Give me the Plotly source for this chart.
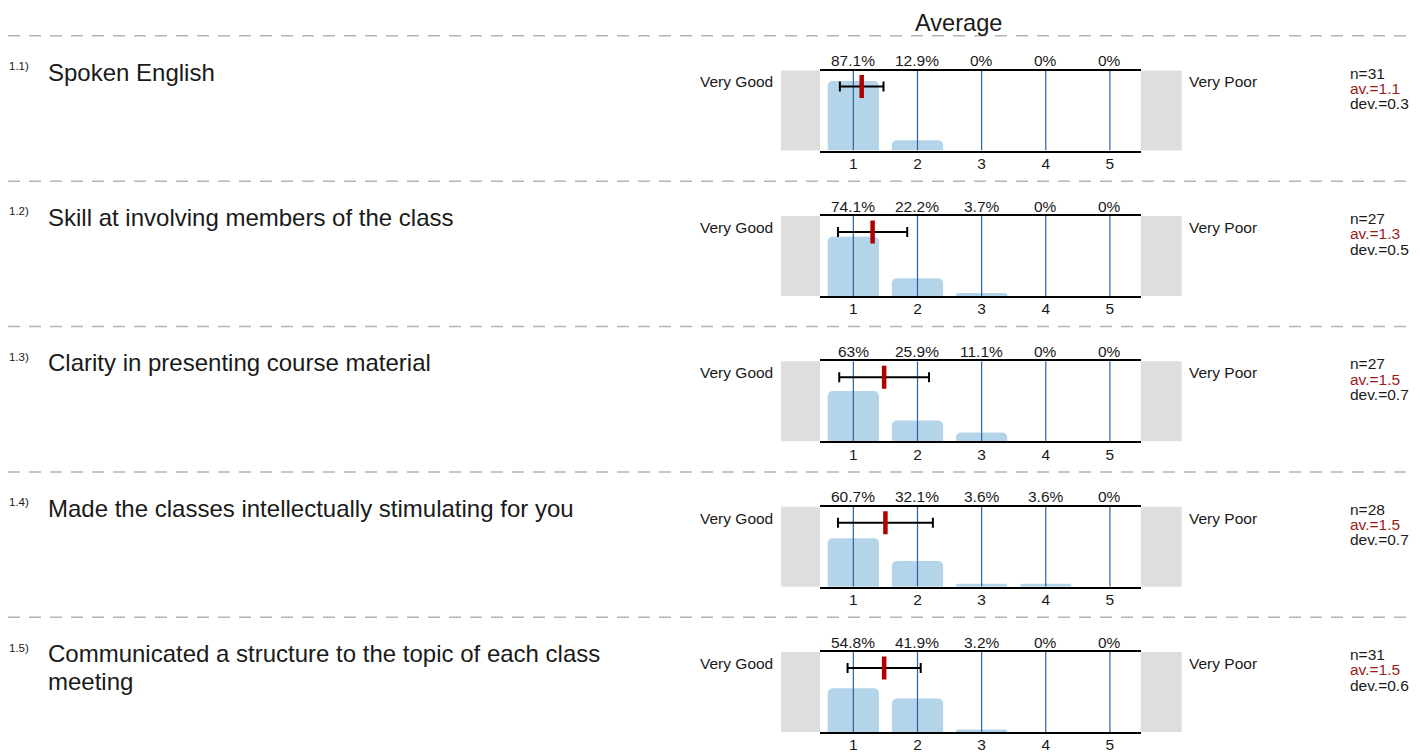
import plotly.graph_objects as go

# ---------------- data ----------------
numbers = ["1.1)", "1.2)", "1.3)", "1.4)", "1.5)"]
questions = [
    ["Spoken English"],
    ["Skill at involving members of the class"],
    ["Clarity in presenting course material"],
    ["Made the classes intellectually stimulating for you"],
    ["Communicated a structure to the topic of each class", "meeting"],
]
scale = [1, 2, 3, 4, 5]
percents = [
    [87.1, 12.9, 0, 0, 0],
    [74.1, 22.2, 3.7, 0, 0],
    [63, 25.9, 11.1, 0, 0],
    [60.7, 32.1, 3.6, 3.6, 0],
    [54.8, 41.9, 3.2, 0, 0],
]
n_values = [31, 27, 27, 28, 31]
means = [1.13, 1.30, 1.48, 1.50, 1.48]
devs = [0.34, 0.54, 0.70, 0.74, 0.57]
left_label = "Very Good"
right_label = "Very Poor"
title_text = "Average"

# ---------------- layout constants ----------------
OFF = 8  # page body margin
W, H = 1420 - 2 * OFF, 753 - OFF
VS = (H + 2 * OFF) / 753.0  # page is captured taller than the window
FONT = "Liberation Sans, Arial, sans-serif"
TXT = "#1a1a1a"
BAR = "#b4d4ea"
GRID = "#2a64a0"
RED = "#b00000"
STATRED = "#9b1b1b"
GRAY = "#dedede"
PX_L, PX_R = 820.0, 1140.7
ROW0, ROW_STEP, ROW_H = 71.0, 146.6, 80.7


def px(x):
    return (x - OFF) / W


def py(y):
    return 1 - (y * VS - OFF) / H


fig = go.Figure()
annotations = []
shapes = []
layout = {}

for i in range(len(questions)):
    k = "" if i == 0 else str(i + 1)
    xa, ya = "x" + k, "y" + k
    top = ROW0 + ROW_STEP * i
    bot = top + ROW_H

    # bars
    fig.add_trace(go.Bar(
        x=scale, y=percents[i], xaxis=xa, yaxis=ya, width=0.8,
        marker=dict(color=BAR, line=dict(width=0), cornerradius=5),
        hoverinfo="skip", showlegend=False,
    ))
    # vertical scale lines (above bars)
    gx, gy = [], []
    for s in scale:
        gx += [s, s, None]
        gy += [0, 100, None]
    fig.add_trace(go.Scatter(
        x=gx, y=gy, xaxis=xa, yaxis=ya, mode="lines",
        line=dict(color=GRID, width=1.2), hoverinfo="skip", showlegend=False,
    ))
    # deviation whisker
    fig.add_trace(go.Scatter(
        x=[means[i]], y=[80], xaxis=xa, yaxis=ya, mode="markers",
        marker=dict(size=1, color="rgba(0,0,0,0)"),
        error_x=dict(type="data", array=[devs[i]], color="black", thickness=2, width=5),
        hoverinfo="skip", showlegend=False,
    ))
    # mean marker
    fig.add_trace(go.Scatter(
        x=[means[i]], y=[80], xaxis=xa, yaxis=ya, mode="markers",
        marker=dict(symbol="line-ns", size=16.5, line=dict(color=RED, width=4.5)),
        hoverinfo="skip", showlegend=False,
    ))

    layout["xaxis" + k] = dict(
        domain=[px(PX_L), px(PX_R)], range=[0.48, 5.48], anchor=ya,
        tickvals=scale, ticktext=[str(s) for s in scale], ticks="",
        tickfont=dict(size=15.5, color=TXT, family=FONT), ticklabelstandoff=-2,
        showline=True, mirror=True, linecolor="black", linewidth=1.6,
        showgrid=False, zeroline=False, fixedrange=True,
    )
    layout["yaxis" + k] = dict(
        domain=[py(bot), py(top)], range=[0, 100], anchor=xa,
        visible=False, fixedrange=True,
    )

    # gray side panels
    shapes.append(dict(type="rect", xref=xa + " domain", yref=ya + " domain",
                       x0=-39 / (PX_R - PX_L), x1=0, y0=0, y1=1,
                       fillcolor=GRAY, line=dict(width=0), layer="below"))
    shapes.append(dict(type="rect", xref=xa + " domain", yref=ya + " domain",
                       x0=1, x1=1 + 41 / (PX_R - PX_L), y0=0, y1=1,
                       fillcolor=GRAY, line=dict(width=0), layer="below"))
    # dashed separator
    shapes.append(dict(type="line", xref="paper", yref="paper",
                       x0=0, x1=1, y0=py(top - 35), y1=py(top - 35),
                       line=dict(color="#b4b4b4", width=1.5, dash="12px,9px")))

    base = dict(showarrow=False, borderpad=0, borderwidth=0)
    # percent labels
    for s, v in zip(scale, percents[i]):
        annotations.append(dict(base, x=s, xref=xa, y=py(top - 10), yref="paper",
                                text=f"{v:g}%", xanchor="center", yanchor="middle",
                                font=dict(size=15.5, color=TXT, family=FONT)))
    # question number
    annotations.append(dict(base, x=px(9), xref="paper", y=py(top - 4.5), yref="paper",
                            text=numbers[i], xanchor="left", yanchor="middle",
                            font=dict(size=11.5, color=TXT, family=FONT)))
    # question text
    for j, line in enumerate(questions[i]):
        annotations.append(dict(base, x=px(48), xref="paper", y=py(top + 1.5 + 28.5 * j),
                                yref="paper", text=line, xanchor="left", yanchor="middle",
                                font=dict(size=24, color=TXT, family=FONT)))
    # scale end labels
    annotations.append(dict(base, x=px(773), xref="paper", y=py(top + 11.5), yref="paper",
                            text=left_label, xanchor="right", yanchor="middle",
                            font=dict(size=15.5, color=TXT, family=FONT)))
    annotations.append(dict(base, x=px(1189), xref="paper", y=py(top + 11.5), yref="paper",
                            text=right_label, xanchor="left", yanchor="middle",
                            font=dict(size=15.5, color=TXT, family=FONT)))
    # stats
    stats = [(f"n={n_values[i]}", TXT), (f"av.={means[i]:.1f}", STATRED),
             (f"dev.={devs[i]:.1f}", TXT)]
    for j, (t, c) in enumerate(stats):
        annotations.append(dict(base, x=px(1350), xref="paper", y=py(top + 2.5 + 15.5 * j),
                                yref="paper", text=t, xanchor="left", yanchor="middle",
                                font=dict(size=15.5, color=c, family=FONT)))

annotations.append(dict(showarrow=False, borderpad=0, borderwidth=0,
                        x=px(958), xref="paper", y=py(23), yref="paper",
                        text=title_text, xanchor="center", yanchor="middle",
                        font=dict(size=23.6, color=TXT, family=FONT)))

fig.update_layout(
    width=W, height=H, margin=dict(l=0, r=0, t=0, b=0),
    paper_bgcolor="white", plot_bgcolor="white",
    showlegend=False, bargap=0.2,
    annotations=annotations, shapes=shapes,
    font=dict(family=FONT, color=TXT),
    **layout,
)

fig.write_html("out.html", config={"displayModeBar": False})
